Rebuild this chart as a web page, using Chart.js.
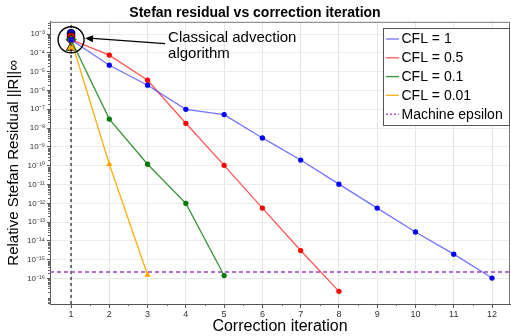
<!DOCTYPE html>
<html>
<head>
<meta charset="utf-8">
<script src="https://cdn.jsdelivr.net/npm/chart.js@4/dist/chart.umd.min.js"></script>
<style>
  body { margin: 0; background: #fff; }
  canvas { display: block; }
</style>
</head>
<body>
<canvas id="residualChart" width="511" height="336"></canvas>
<script>
const iterations = [1, 2, 3, 4, 5, 6, 7, 8, 9, 10, 11, 12];
const cfl1 = [5.0e-4, 2.2e-5, 1.9e-6, 1.0e-7, 5.2e-8, 3.0e-9, 2.0e-10, 1.05e-11, 5.6e-13, 3.0e-14, 2.0e-15, 1.07e-16];
const cfl05 = [5.0e-4, 7.6e-5, 3.5e-6, 1.8e-8, 1.05e-10, 5.6e-13, 3.1e-15, 2.1e-17];
const cfl01 = [5.0e-4, 3.0e-8, 1.2e-10, 1.0e-12, 1.45e-16];
const cfl001 = [5.0e-4, 1.2e-10, 1.55e-16];
// big markers of the classical algorithm at iteration 1
const classicalMarkers = [1.1e-3, 7.5e-4, 5.0e-4, 1.9e-4];
const machineEps = 2.22e-16;
const yExponents = [-16, -15, -14, -13, -12, -11, -10, -9, -8, -7, -6, -5, -4, -3];
const xRange = [0.45, 12.47];
const yRange = [Math.pow(10, -17.35), Math.pow(10, -2.35)];

const labels = ["CFL = 1", "CFL = 0.5", "CFL = 0.1", "CFL = 0.01"];
const lineColors = ["rgba(40,40,255,0.65)", "rgba(255,30,30,0.75)", "rgba(20,130,20,0.85)", "rgba(255,170,0,0.95)"];
const markColors = ["#0000ff", "#ff0000", "#007a00", "#ffa500"];
const markStyles = ["circle", "circle", "circle", "triangle"];

const SUP = { "-": "\u207b", "0": "\u2070", "1": "\u00b9", "2": "\u00b2", "3": "\u00b3", "4": "\u2074", "5": "\u2075", "6": "\u2076", "7": "\u2077", "8": "\u2078", "9": "\u2079" };
const sup = (n) => String(n).split("").map((c) => SUP[c]).join("");

function series(values) {
  return values.map((v, i) => ({ x: iterations[i], y: v }));
}

const allSeries = [cfl1, cfl05, cfl01, cfl001];
const datasets = allSeries.map((vals, i) => ({
  label: labels[i],
  data: series(vals),
  borderColor: lineColors[i],
  backgroundColor: markColors[i],
  pointBorderColor: markColors[i],
  pointStyle: markStyles[i],
  pointRadius: markStyles[i] === "triangle" ? 2.4 : 2,
  borderWidth: 1.3,
  tension: 0,
}));

datasets.push({
  label: "Machine epsilon",
  data: [{ x: xRange[0], y: machineEps }, { x: xRange[1], y: machineEps }],
  borderColor: "#a040c0",
  borderDash: [4, 3],
  borderWidth: 1.5,
  pointRadius: 0,
});

datasets.push({
  label: "_classical",
  data: [{ x: 1, y: yRange[0] }, { x: 1, y: yRange[1] }],
  borderColor: "#222",
  borderDash: [3, 3],
  borderWidth: 1.2,
  pointRadius: 0,
});

datasets.push({
  label: "_markers",
  data: classicalMarkers.map((v) => ({ x: 1, y: v })),
  showLine: false,
  pointStyle: ["circle", "circle", "rectRot", "triangle"],
  pointRadius: [4, 4, 5, 5.5],
  pointBackgroundColor: markColors,
  pointBorderColor: "#000",
  pointBorderWidth: 0.8,
});

const lineIdx = [0, 1, 2, 3];

const extras = {
  id: "extras",
  afterDraw(chart) {
    const { ctx, chartArea: a, scales } = chart;
    const xs = scales.x, ys = scales.y;
    ctx.save();
    // frame
    ctx.strokeStyle = "#777";
    ctx.lineWidth = 1;
    ctx.beginPath();
    ctx.moveTo(a.left, a.top + 0.5);
    ctx.lineTo(a.right - 0.5, a.top + 0.5);
    ctx.lineTo(a.right - 0.5, a.bottom);
    ctx.stroke();
    // minor ticks on y
    ctx.strokeStyle = "#666";
    ctx.beginPath();
    for (let d = -18; d <= -2; d++) {
      for (let k = 2; k <= 9; k++) {
        const v = k * Math.pow(10, d);
        if (v < yRange[0] || v > yRange[1]) continue;
        const py = Math.round(ys.getPixelForValue(v)) + 0.5;
        ctx.moveTo(a.left - 2, py);
        ctx.lineTo(a.left + 1, py);
      }
    }
    // minor ticks on x
    for (let i = 0; i < iterations.length; i++) {
      const px = Math.round(xs.getPixelForValue(iterations[i] + 0.5)) + 0.5;
      if (px > a.right) continue;
      ctx.moveTo(px, a.bottom);
      ctx.lineTo(px, a.bottom + 2);
    }
    ctx.stroke();

    // annotation circle + arrow
    const cx = xs.getPixelForValue(1);
    const cy = ys.getPixelForValue(classicalMarkers[2]);
    const r = 13;
    ctx.strokeStyle = "#000";
    ctx.lineWidth = 1.4;
    ctx.beginPath();
    ctx.arc(cx, cy, r, 0, Math.PI * 2);
    ctx.stroke();
    const tipX = cx + r + 1, tipY = cy - 1.5;
    const tailX = cx + 94, tailY = cy + 4;
    ctx.lineWidth = 1.2;
    ctx.beginPath();
    ctx.moveTo(tailX, tailY);
    ctx.lineTo(tipX + 4, tipY);
    ctx.stroke();
    const ang = Math.atan2(tipY - tailY, tipX - tailX);
    ctx.fillStyle = "#000";
    ctx.beginPath();
    ctx.moveTo(tipX, tipY);
    ctx.lineTo(tipX - 8 * Math.cos(ang) + 3.5 * Math.sin(ang), tipY - 8 * Math.sin(ang) - 3.5 * Math.cos(ang));
    ctx.lineTo(tipX - 8 * Math.cos(ang) - 3.5 * Math.sin(ang), tipY - 8 * Math.sin(ang) + 3.5 * Math.cos(ang));
    ctx.closePath();
    ctx.fill();
    ctx.font = "15px 'Liberation Sans', Arial, sans-serif";
    ctx.textBaseline = "middle";
    ctx.textAlign = "left";
    ctx.fillText("Classical advection", cx + 97, cy - 2);
    ctx.fillText("algorithm", cx + 97, cy + 14);

    // legend
    const lx = 383.5, ly = 28.5, lw = 126, lh = 97;
    ctx.fillStyle = "#fff";
    ctx.fillRect(lx, ly, lw, lh);
    ctx.strokeStyle = "#555";
    ctx.lineWidth = 1;
    ctx.strokeRect(lx, ly, lw, lh);
    ctx.font = "14px 'Liberation Sans', Arial, sans-serif";
    const entries = lineIdx.map((i) => ({ label: labels[i], color: lineColors[i], dash: [] }));
    entries.push({ label: "Machine epsilon", color: "#a040c0", dash: [2, 2] });
    entries.forEach((e, i) => {
      const ey = 39 + i * 18.8;
      ctx.strokeStyle = e.color;
      ctx.setLineDash(e.dash);
      ctx.lineWidth = 1.3;
      ctx.beginPath();
      ctx.moveTo(386, ey);
      ctx.lineTo(399, ey);
      ctx.stroke();
      ctx.setLineDash([]);
      ctx.fillStyle = "#000";
      ctx.fillText(e.label, 401.5, ey + 0.5);
    });
    ctx.restore();
  },
};

new Chart(document.getElementById("residualChart"), {
  type: "line",
  data: { datasets },
  options: {
    responsive: false,
    animation: false,
    layout: { autoPadding: false, padding: { right: 1 } },
    plugins: {
      legend: { display: false },
      tooltip: { enabled: false },
      title: {
        display: true,
        text: "Stefan residual vs correction iteration",
        color: "#000",
        font: { family: "'Liberation Sans', Arial, sans-serif", size: 14, weight: "bold" },
        padding: { top: 5, bottom: 0 },
      },
    },
    scales: {
      x: {
        type: "linear",
        min: xRange[0],
        max: xRange[1],
        afterFit: (s) => { s.height = 32; },
        afterBuildTicks: (s) => { s.ticks = iterations.map((v) => ({ value: v })); },
        ticks: {
          color: "#333",
          font: { family: "'Liberation Sans', Arial, sans-serif", size: 9 },
          padding: 1,
          maxRotation: 0,
          callback: (v) => String(v),
        },
        grid: { color: "#e6e6e6", tickColor: "#555", tickLength: 4 },
        border: { color: "#555", width: 1 },
        title: {
          display: true,
          text: "Correction iteration",
          color: "#000",
          font: { family: "'Liberation Sans', Arial, sans-serif", size: 16 },
          padding: { top: 0, bottom: 0 },
        },
      },
      y: {
        type: "logarithmic",
        min: yRange[0],
        max: yRange[1],
        afterFit: (s) => { s.width = 50; },
        afterBuildTicks: (s) => { s.ticks = yExponents.map((e) => ({ value: Math.pow(10, e) })); },
        ticks: {
          color: "#333",
          font: { family: "'Liberation Sans', Arial, sans-serif", size: 8 },
          padding: 2,
          callback: (v) => "10" + sup(Math.round(Math.log10(v))),
        },
        grid: { color: "#ececec", tickColor: "#555", tickLength: 3 },
        border: { color: "#555", width: 1 },
        title: {
          display: true,
          text: "Relative Stefan Residual ||R||\u221e",
          color: "#000",
          font: { family: "'Liberation Sans', Arial, sans-serif", size: 15 },
          padding: { top: 5, bottom: 0 },
        },
      },
    },
  },
  plugins: [extras],
});
</script>
</body>
</html>
